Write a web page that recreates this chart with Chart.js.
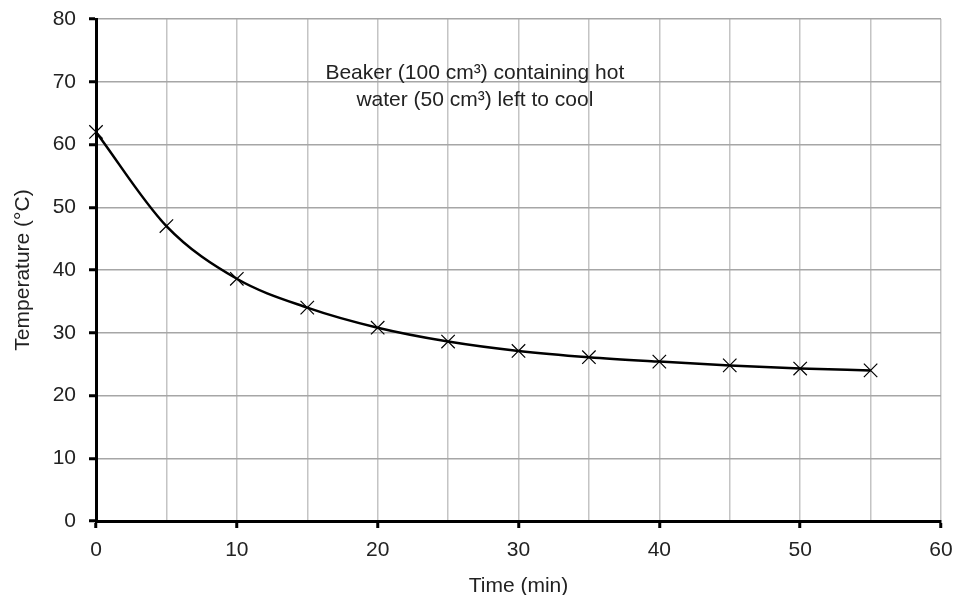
<!DOCTYPE html>
<html>
<head>
<meta charset="utf-8">
<script src="https://cdn.jsdelivr.net/npm/chart.js@4.4.1/dist/chart.umd.min.js"></script>
<style>
  html, body { margin: 0; padding: 0; background: #fff; }
  #wrap { width: 955px; height: 595px; }
</style>
</head>
<body>
<div id="wrap"><canvas id="coolChart"></canvas></div>
<script>
const times = [0, 5, 10, 15, 20, 25, 30, 35, 40, 45, 50, 55];
const temps = [62, 47, 38.6, 34, 30.8, 28.6, 27.1, 26.1, 25.4, 24.8, 24.3, 24];
const noteLines = ["Beaker (100 cm³) containing hot", "water (50 cm³) left to cool"];
const xTitle = "Time (min)";
const yTitle = "Temperature (°C)";

const FONT = "'Liberation Sans', Arial, sans-serif";
const FS = 21;

// text box inside the plot
const notePlugin = {
    id: "note",
    afterDraw(chart) {
        const { ctx, scales } = chart;
        const cx = scales.x.getPixelForValue(26.9);
        ctx.save();
        ctx.font = FS + "px " + FONT;
        ctx.fillStyle = "#222";
        ctx.textAlign = "center";
        ctx.textBaseline = "middle";
        ctx.fillText(noteLines[0], cx, scales.y.getPixelForValue(71.4));
        ctx.fillText(noteLines[1], cx, scales.y.getPixelForValue(67));
        ctx.restore();
    }
};

const ctx = document.getElementById("coolChart").getContext("2d");

new Chart(ctx, {
    type: "line",
    data: {
        datasets: [
            {
                data: times.map((t, i) => ({ x: t, y: temps[i] })),
                borderColor: "#000",
                borderWidth: 2.5,
                tension: 0.4,
                cubicInterpolationMode: "monotone",
                clip: false,
                pointStyle: "crossRot",
                pointRadius: 9.5,
                pointBorderColor: "#000",
                pointBorderWidth: 1.2,
                pointBackgroundColor: "#000"
            }
        ]
    },
    options: {
        responsive: true,
        maintainAspectRatio: false,
        animation: false,
        layout: { padding: { top: 19, right: 14, left: 0, bottom: 0 } },
        scales: {
            x: {
                type: "linear",
                min: 0,
                max: 60,
                afterFit: (s) => { s.height = 74; s.paddingLeft = 0; s.paddingRight = 0; },
                title: { display: true, text: xTitle, color: "#222", font: { family: FONT, size: FS }, padding: { top: 0, bottom: -4 } },
                border: { color: "#000", width: 3 },
                grid: {
                    color: "#c4c4c4",
                    lineWidth: 1.5,
                    tickLength: 7,
                    tickColor: (c) => (c.tick && c.tick.value % 10 === 0 ? "#000" : "rgba(0,0,0,0)"),
                    tickWidth: 3
                },
                ticks: {
                    stepSize: 5,
                    color: "#222",
                    padding: 10,
                    maxRotation: 0,
                    font: { family: FONT, size: FS },
                    callback: (v) => (v % 10 === 0 ? v : "")
                }
            },
            y: {
                min: 0,
                max: 80,
                afterFit: (s) => { s.width = 96; s.paddingTop = 0; s.paddingBottom = 0; },
                title: { display: true, text: yTitle, color: "#222", font: { family: FONT, size: FS }, padding: { top: 11, bottom: 0 } },
                border: { color: "#000", width: 3 },
                grid: {
                    color: "#a6a6a6",
                    lineWidth: 1.5,
                    tickLength: 7,
                    tickColor: "#000",
                    tickWidth: 3
                },
                ticks: {
                    stepSize: 10,
                    color: "#222",
                    padding: 13,
                    font: { family: FONT, size: FS }
                }
            }
        },
        plugins: {
            legend: { display: false },
            tooltip: { enabled: false }
        }
    },
    plugins: [notePlugin]
});
</script>
</body>
</html>
